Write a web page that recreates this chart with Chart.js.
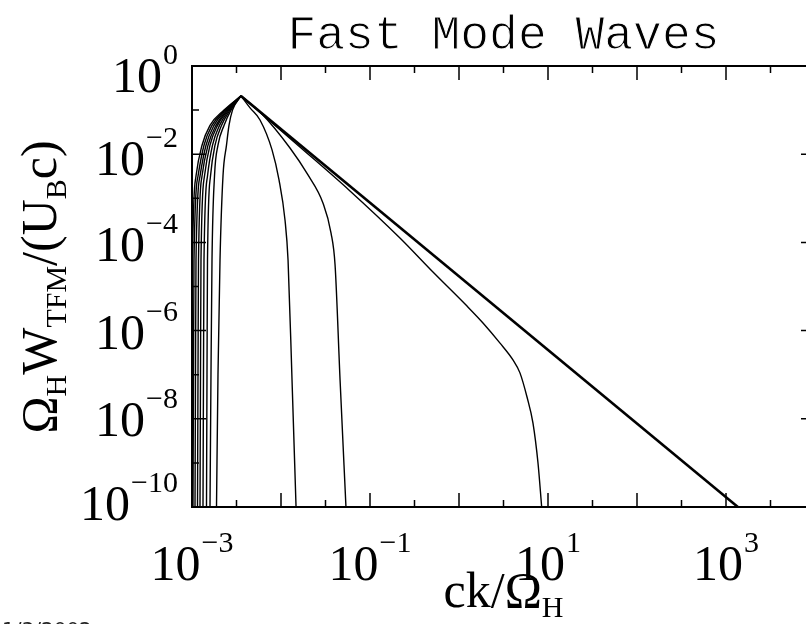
<!DOCTYPE html>
<html>
<head>
<meta charset="utf-8">
<script src="https://cdn.jsdelivr.net/npm/chart.js@4.4.1/dist/chart.umd.min.js"></script>
<style>
	html, body { margin: 0; padding: 0; background: #fff; overflow: hidden; }
	#wrap { position: relative; width: 806px; height: 624px; overflow: hidden; }
</style>
</head>
<body>
<div id="wrap"><canvas id="chartFastMode" width="830" height="624"></canvas></div>
<script>
// low-k (rising) side of each spectrum, all read at the same W levels
const wRise = [1e-10, 1e-7, 4e-5, 3.2e-3, 1.6e-2, 4.5e-2, 0.1, 0.21];
const kRise1 = [9.87e-4, 1.000e-3, 1.013e-3, 1.109e-3, 1.296e-3, 1.593e-3, 2.289e-3, 3.55e-3];
const kRise2 = [1.026e-3, 1.040e-3, 1.053e-3, 1.168e-3, 1.364e-3, 1.678e-3, 2.349e-3, 3.55e-3];
const kRise3 = [1.081e-3, 1.095e-3, 1.109e-3, 1.230e-3, 1.437e-3, 1.767e-3, 2.410e-3, 3.55e-3];
const kRise4 = [1.153e-3, 1.168e-3, 1.183e-3, 1.296e-3, 1.513e-3, 1.861e-3, 2.473e-3, 3.55e-3];
const kRise5 = [1.230e-3, 1.246e-3, 1.262e-3, 1.381e-3, 1.593e-3, 1.934e-3, 2.538e-3, 3.55e-3];
const kRise6 = [1.329e-3, 1.346e-3, 1.364e-3, 1.493e-3, 1.700e-3, 2.037e-3, 2.604e-3, 3.55e-3];
const kRise7 = [1.455e-3, 1.474e-3, 1.493e-3, 1.614e-3, 1.814e-3, 2.145e-3, 2.673e-3, 3.55e-3];
const kRise8 = [1.593e-3, 1.634e-3, 1.678e-3, 1.790e-3, 1.959e-3, 2.289e-3, 2.743e-3, 3.55e-3];
const kRise9 = [1.885e-3, 1.959e-3, 2.064e-3, 2.230e-3, 2.441e-3, 2.604e-3, 2.851e-3, 3.55e-3];

// high-k (falling) sides
const kFall1 = [3.55e-3, 4.49e-3, 5.81e-3, 7.93e-3, 9.50e-3, 1.109e-2, 1.20e-2, 1.33e-2, 1.476e-2];
const wFall1 = [0.21, 0.112, 5.97e-2, 1.25e-2, 2.60e-3, 3.22e-4, 3.98e-5, 7.6e-8, 1e-10];
const kFall2 = [3.55e-3, 6.12e-3, 1.262e-2, 2.01e-2, 2.96e-2, 3.65e-2, 4.05e-2, 4.61e-2, 5.37e-2];
const wFall2 = [0.21, 8.16e-2, 1.38e-2, 3.38e-3, 7.82e-4, 1.63e-4, 3.07e-5, 7.6e-8, 1e-10];
const kFall3 = [3.55e-3, 1.63e-2, 5.96e-2, 0.217, 0.510, 1.23, 1.86, 2.89, 4.04, 4.84, 5.81, 6.78, 7.72, 8.49];
const wFall3 = [0.21, 1.46e-2, 1.47e-3, 1.26e-4, 2.13e-5, 3.6e-6, 1.49e-6, 5.2e-7, 2.16e-7, 1.1e-7, 3.12e-8, 8.0e-9, 9.95e-10, 1e-10];
const kFall4 = [3.55e-3, 1.36e3];
const wFall4 = [0.21, 1e-10];

const xMajorPowers = [-3, -2, -1, 0, 1, 2, 3, 4];
const yMajorPowers = [0, -1, -2, -3, -4, -5, -6, -7, -8, -9, -10];
const xLabelPowers = [-3, -1, 1, 3];
const yLabelPowers = [0, -2, -4, -6, -8, -10];

const SERIF = '"Liberation Serif", "Times New Roman", serif';

function toPoints(ks, ws) {
	return ks.map((k, i) => ({ x: k, y: ws[i] }));
}

function curve(points, width) {
	return {
		data: points,
		borderColor: '#000',
		borderWidth: width || 1.4,
		pointRadius: 0,
		fill: false,
		cubicInterpolationMode: 'monotone'
	};
}

// text made of normal and subscript pieces, centred on 0,0 of current transform
function drawPieces(ctx, pieces, big, small, drop) {
	let total = 0;
	pieces.forEach(p => {
		ctx.font = (p[1] ? small : big) + 'px ' + SERIF;
		p.w = ctx.measureText(p[0]).width;
		total += p.w;
	});
	let x = -total / 2;
	pieces.forEach(p => {
		ctx.font = (p[1] ? small : big) + 'px ' + SERIF;
		ctx.fillText(p[0], x, p[1] ? drop : 0);
		x += p.w;
	});
}

function drawPower(ctx, p, x, y, align) {
	const sup = String(p).replace('-', '\u2212');
	ctx.font = '50px ' + SERIF;
	const wb = ctx.measureText('10').width;
	ctx.font = '30px ' + SERIF;
	const ws = ctx.measureText(sup).width;
	const x0 = align === 'right' ? x - wb - ws - 1 : x - (wb + ws + 1) / 2;
	ctx.font = '50px ' + SERIF;
	ctx.fillText('10', x0, y);
	ctx.font = '30px ' + SERIF;
	ctx.fillText(sup, x0 + wb + 1, y - 28);
}

const idlAxes = {
	id: 'idlAxes',
	afterDraw(chart) {
		const ctx = chart.ctx;
		const a = chart.chartArea;
		const xs = chart.scales.x;
		const ys = chart.scales.y;
		ctx.save();
		ctx.strokeStyle = '#000';
		ctx.fillStyle = '#000';
		ctx.lineWidth = 2;
		ctx.strokeRect(a.left, a.top, a.right - a.left, a.bottom - a.top);

		ctx.lineWidth = 1.5;
		ctx.beginPath();
		xMajorPowers.forEach(p => {
			[[p, 14], [p + 0.5, 7]].forEach(t => {
				if (t[0] > 4) return;
				const px = xs.getPixelForValue(Math.pow(10, t[0]));
				ctx.moveTo(px, a.bottom); ctx.lineTo(px, a.bottom - t[1]);
				ctx.moveTo(px, a.top); ctx.lineTo(px, a.top + t[1]);
			});
		});
		yMajorPowers.forEach(p => {
			const len = p % 2 === 0 ? 14 : 7;
			const py = ys.getPixelForValue(Math.pow(10, p));
			ctx.moveTo(a.left, py); ctx.lineTo(a.left + len, py);
			ctx.moveTo(a.right, py); ctx.lineTo(a.right - len, py);
		});
		ctx.stroke();

		ctx.textAlign = 'left';
		ctx.textBaseline = 'alphabetic';
		xLabelPowers.forEach(p => {
			drawPower(ctx, p, xs.getPixelForValue(Math.pow(10, p)), 580, 'center');
		});
		// labels sit slightly off their ticks at the two ends, as in the plot
		const yNudge = { '0': 9, '-2': 4, '-4': 2, '-6': 1, '-8': 0, '-10': -4 };
		yLabelPowers.forEach(p => {
			drawPower(ctx, p, 178, ys.getPixelForValue(Math.pow(10, p)) + 17 + yNudge[p], 'right');
		});

		// title, thinned a little with a white outline
		ctx.font = '48px "Liberation Mono", "DejaVu Sans Mono", monospace';
		ctx.textAlign = 'center';
		const tx = (a.left + a.right) / 2;
		ctx.fillText('Fast Mode Waves', tx, 49);
		ctx.strokeStyle = '#fff';
		ctx.lineWidth = 1;
		ctx.strokeText('Fast Mode Waves', tx, 49);
		ctx.strokeStyle = '#000';
		ctx.textAlign = 'left';

		// x axis title
		ctx.save();
		ctx.translate((a.left + a.right) / 2, 607);
		drawPieces(ctx, [['ck/\u03A9', 0], ['H', 1]], 50, 30, 10);
		ctx.restore();

		// y axis title
		ctx.save();
		ctx.translate(56, 287);
		ctx.rotate(-Math.PI / 2);
		drawPieces(ctx, [['\u03A9', 0], ['H', 1], ['W', 0], ['TFM', 1], ['/(U', 0], ['B', 1], ['c)', 0]], 50, 30, 10);
		ctx.restore();

		// plot date in the corner
		ctx.font = '20px "DejaVu Sans", sans-serif';
		ctx.fillStyle = '#222';
		ctx.fillText('1/3/2002', 2, 636);
		ctx.restore();
	}
};

function displayFastModeWaves() {
	const rises = [kRise1, kRise2, kRise3, kRise4, kRise5, kRise6, kRise7, kRise8, kRise9];
	const datasets = rises.map(ks => curve(toPoints(ks, wRise)));
	datasets.push(curve(toPoints(kFall1, wFall1)));
	datasets.push(curve(toPoints(kFall2, wFall2)));
	datasets.push(curve(toPoints(kFall3, wFall3)));
	datasets.push(curve(toPoints(kFall4, wFall4), 2.6));

	new Chart(document.getElementById('chartFastMode'), {
		type: 'line',
		data: { datasets: datasets },
		options: {
			responsive: false,
			animation: false,
			devicePixelRatio: 1,
			layout: { padding: { left: 192, top: 66, right: 15, bottom: 117 } },
			plugins: {
				legend: { display: false },
				tooltip: { enabled: false }
			},
			scales: {
				x: { type: 'logarithmic', min: 1e-3, max: 1e4, display: false },
				y: { type: 'logarithmic', min: 1e-10, max: 1, display: false }
			}
		},
		plugins: [idlAxes]
	});
}
displayFastModeWaves();
</script>
</body>
</html>
